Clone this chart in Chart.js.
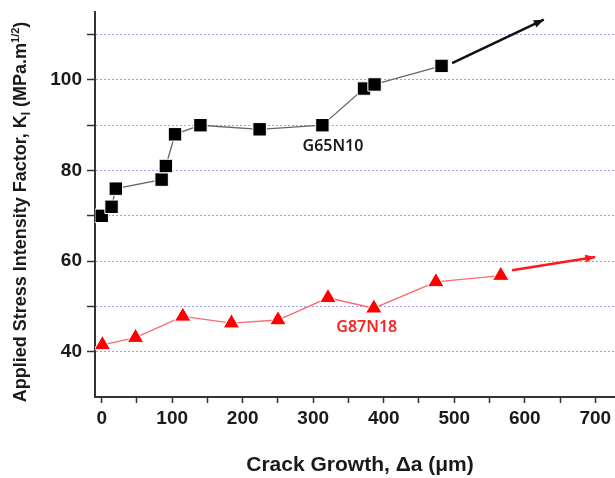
<!DOCTYPE html>
<html>
<head>
<meta charset="utf-8">
<script src="https://cdn.jsdelivr.net/npm/chart.js@4.4.0/dist/chart.umd.min.js"></script>
<style>
  html, body { margin: 0; padding: 0; background: #fff; }
</style>
</head>
<body>
<canvas id="kr-chart" width="615" height="478"></canvas>
<script>
// G65N10 - black squares
const g65Growth = [0, 14, 20, 85, 91, 104, 140, 224, 313, 372, 387, 482];
const g65K = [70, 72, 76, 78, 81, 88, 90, 89.1, 90, 98.1, 99, 103.1];
// G87N18 - red triangles
const g87Growth = [1, 48, 115, 184, 250, 321, 386, 474, 566];
const g87K = [41.5, 43.1, 47.8, 46.3, 47, 51.9, 49.6, 55.4, 56.8];
// trend arrows (start, end)
const g65ArrowX = [497, 627];
const g65ArrowY = [103.7, 113.3];
const g87ArrowX = [582, 700];
const g87ArrowY = [58.0, 60.9];
// curve labels
const seriesNames = ['G65N10', 'G87N18'];
const nameX = [328, 376];
const nameY = [85.4, 45.3];
// axis ticks
const xTickValues = [0, 50, 100, 150, 200, 250, 300, 350, 400, 450, 500, 550, 600, 650, 700];
const yTickValues = [40, 50, 60, 70, 80, 90, 100, 110];

const FONT = "'Liberation Sans', Arial, sans-serif";
const AXIS = '#333';

function pts(xs, ys) {
    return xs.map((v, i) => ({x: v, y: ys[i]}));
}

const annotate = {
    id: 'annotate',
    afterDatasetsDraw(chart) {
        const ctx = chart.ctx;
        const {x, y} = chart.scales;

        // arrow heads
        chart.data.datasets.forEach((ds, i) => {
            if (!ds.arrow) return;
            const p = chart.getDatasetMeta(i).data;
            const a = p[0], b = p[p.length - 1];
            const ang = Math.atan2(b.y - a.y, b.x - a.x);
            ctx.save();
            ctx.translate(b.x, b.y);
            ctx.rotate(ang);
            ctx.fillStyle = ds.borderColor;
            ctx.beginPath();
            ctx.moveTo(0, 0);
            ctx.lineTo(-10, -4);
            ctx.lineTo(-10, 4);
            ctx.closePath();
            ctx.fill();
            ctx.restore();
        });

        // series names
        const colors = ['#1a1a1a', '#ff2020'];
        ctx.save();
        ctx.font = "600 16px 'Noto Sans', sans-serif";
        ctx.textAlign = 'center';
        ctx.textBaseline = 'middle';
        seriesNames.forEach((s, i) => {
            ctx.fillStyle = colors[i];
            ctx.fillText(s, x.getPixelForValue(nameX[i]), y.getPixelForValue(nameY[i]));
        });
        ctx.restore();
    },
    afterDraw(chart) {
        const ctx = chart.ctx;
        ctx.save();
        ctx.fillStyle = '#1a1a1a';

        // x title
        ctx.font = 'bold 21px ' + FONT;
        ctx.textAlign = 'center';
        ctx.textBaseline = 'middle';
        ctx.fillText('Crack Growth, \u0394a (\u03bcm)', 360, 465);

        // y title with sub/superscript
        const parts = [
            {t: 'Applied Stress Intensity Factor, K', s: 18, dy: 0},
            {t: 'I', s: 12, dy: 4},
            {t: ' (MPa.m', s: 18, dy: 0},
            {t: '1/2', s: 11, dy: -7},
            {t: ')', s: 18, dy: 0}
        ];
        let total = 0;
        parts.forEach(p => {
            ctx.font = 'bold ' + p.s + 'px ' + FONT;
            p.w = ctx.measureText(p.t).width;
            total += p.w;
        });
        ctx.translate(20, 212);
        ctx.rotate(-Math.PI / 2);
        ctx.textAlign = 'left';
        ctx.textBaseline = 'alphabetic';
        let cx = -total / 2;
        parts.forEach(p => {
            ctx.font = 'bold ' + p.s + 'px ' + FONT;
            ctx.fillText(p.t, cx, 6 + p.dy);
            cx += p.w;
        });
        ctx.restore();
    }
};

const ctx = document.getElementById('kr-chart').getContext('2d');

new Chart(ctx, {
    type: 'scatter',
    data: {
        datasets: [
            {
                data: pts(g65Growth, g65K),
                showLine: true,
                borderColor: '#666',
                borderWidth: 1.3,
                pointStyle: 'rect',
                pointRadius: 9.5,
                pointBackgroundColor: '#000',
                pointBorderColor: '#fff',
                pointBorderWidth: 1
            },
            {
                data: pts(g87Growth, g87K),
                showLine: true,
                borderColor: '#ff6a6a',
                borderWidth: 1.3,
                pointStyle: 'triangle',
                pointRadius: 9.5,
                pointBackgroundColor: '#ff0000',
                pointBorderColor: '#fff',
                pointBorderWidth: 1
            },
            {
                data: pts(g65ArrowX, g65ArrowY),
                showLine: true,
                arrow: true,
                borderColor: '#111',
                borderWidth: 2.5,
                pointRadius: 0
            },
            {
                data: pts(g87ArrowX, g87ArrowY),
                showLine: true,
                arrow: true,
                borderColor: '#ff1a1a',
                borderWidth: 2.5,
                pointRadius: 0
            }
        ]
    },
    options: {
        responsive: false,
        animation: false,
        layout: { autoPadding: false, padding: { top: 12, right: 0, left: 0, bottom: 0 } },
        plugins: {
            legend: { display: false },
            tooltip: { enabled: false }
        },
        scales: {
            x: {
                type: 'linear',
                min: -9.5,
                max: 728,
                afterBuildTicks: s => { s.ticks = xTickValues.map(v => ({value: v})); },
                afterFit: s => { s.height = 81; s.paddingLeft = 0; s.paddingRight = 0; },
                grid: {
                    drawOnChartArea: false,
                    color: AXIS,
                    tickLength: 6,
                    tickWidth: 1.5
                },
                border: { color: AXIS, width: 2 },
                ticks: {
                    autoSkip: false,
                    maxRotation: 0,
                    padding: 4,
                    color: '#1a1a1a',
                    font: { family: FONT, size: 19, weight: 'bold' },
                    callback: v => (v % 100 === 0 ? v : '')
                }
            },
            y: {
                min: 30,
                max: 115,
                afterBuildTicks: s => { s.ticks = yTickValues.map(v => ({value: v})); },
                afterFit: s => { s.width = 95; s.paddingTop = 0; s.paddingBottom = 0; },
                grid: {
                    color: 'rgba(120,120,255,0.75)',
                    lineWidth: 1,
                    tickColor: AXIS,
                    tickLength: 8,
                    tickWidth: 1.5,
                    tickBorderDash: []
                },
                border: { color: AXIS, width: 2, dash: [2, 2] },
                ticks: {
                    padding: 5,
                    color: '#1a1a1a',
                    font: { family: FONT, size: 19, weight: 'bold' },
                    callback: v => (v % 20 === 0 ? v : '')
                }
            }
        }
    },
    plugins: [annotate]
});
</script>
</body>
</html>
